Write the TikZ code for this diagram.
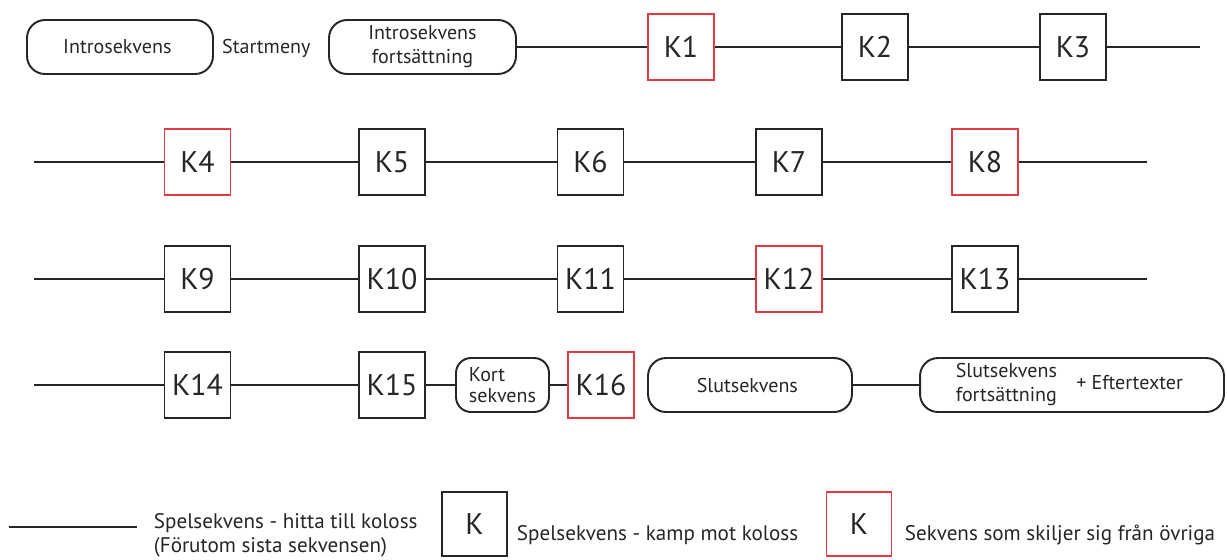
\documentclass[tikz,border=0pt]{standalone}
\usepackage{fontspec}
\setmainfont{PT Sans}
\definecolor{kolossred}{RGB}{225,60,70}
\begin{document}
\begin{tikzpicture}[x=0.02cm, y=-0.02cm, line width=1.1pt, black!85,
        kbox/.style={draw, minimum width=1.32cm, minimum height=1.32cm, inner sep=0pt, font=\fontsize{17}{20}\selectfont},
        kred/.style={kbox, draw=kolossred},
        seq/.style={draw, rounded corners=0.36cm, minimum height=1.08cm, inner sep=0pt, align=center, font=\fontsize{11.4}{13.7}\selectfont},
        txt/.style={inner sep=0pt, align=left, font=\fontsize{12}{13.5}\selectfont}]
            \useasboundingbox (0, 0) rectangle (1227, 559);

            % rad 1
            \node[seq, minimum width=3.72cm] (intro) at (120, 47) { Introsekvens };
            \node[txt, font=\fontsize{11.4}{13.7}\selectfont] (startmeny) at (269, 48) { Startmeny };
            \node[seq, minimum width=3.74cm] (introfort) at (422.5, 47) { Introsekvens\\fortsättning };
            \node[kred] (k1) at (681, 47) { K1 };
            \node[kbox] (k2) at (875, 47) { K2 };
            \node[kbox] (k3) at (1073, 47) { K3 };
            \coordinate (end1) at (1200, 47);

            \draw (introfort) -- (k1);
            \draw (k1) -- (k2);
            \draw (k2) -- (k3);
            \draw (k3) -- (end1);

            % rad 2
            \coordinate (start2) at (34, 162);
            \node[kred] (k4) at (197.5, 162) { K4 };
            \node[kbox] (k5) at (392, 162) { K5 };
            \node[kbox] (k6) at (590.5, 162) { K6 };
            \node[kbox] (k7) at (789, 162) { K7 };
            \node[kred] (k8) at (985, 162) { K8 };
            \coordinate (end2) at (1147, 162);

            \draw (start2) -- (k4);
            \draw (k4) -- (k5);
            \draw (k5) -- (k6);
            \draw (k6) -- (k7);
            \draw (k7) -- (k8);
            \draw (k8) -- (end2);

            % rad 3
            \coordinate (start3) at (34, 279);
            \node[kbox] (k9) at (197.5, 279) { K9 };
            \node[kbox] (k10) at (392, 279) { K10 };
            \node[kbox] (k11) at (590.5, 279) { K11 };
            \node[kred] (k12) at (789, 279) { K12 };
            \node[kbox] (k13) at (985, 279) { K13 };
            \coordinate (end3) at (1147, 279);

            \draw (start3) -- (k9);
            \draw (k9) -- (k10);
            \draw (k10) -- (k11);
            \draw (k11) -- (k12);
            \draw (k12) -- (k13);
            \draw (k13) -- (end3);

            % rad 4
            \coordinate (start4) at (34, 385);
            \node[kbox] (k14) at (197.5, 385) { K14 };
            \node[kbox] (k15) at (392, 385) { K15 };
            \node[seq, minimum width=1.86cm, rounded corners=0.3cm, font=\fontsize{11.4}{11.5}\selectfont, align=left] (kort) at (502.5, 385) { Kort\\sekvens };
            \node[kred] (k16) at (601, 385) { K16 };
            \node[seq, minimum width=4.08cm] (slut) at (750, 385) { Slutsekvens };
            \node[seq, minimum width=6.08cm] (slutfort) at (1072, 385) { \begin{tabular}{@{}l@{}}Slutsekvens\\fortsättning\end{tabular}\hspace{11pt}+ Eftertexter };

            \draw (start4) -- (k14);
            \draw (k14) -- (k15);
            \draw (k15) -- (kort);
            \draw (kort) -- (k16);
            \draw (slut) -- (slutfort);

            % förklaring
            \coordinate (legstart) at (9, 527);
            \coordinate (legend) at (137, 527);
            \draw (legstart) -- (legend);
            \node[txt, anchor=west] (legline) at (153, 535) { Spelsekvens - hitta till koloss\\(Förutom sista sekvensen) };
            \node[kbox, minimum width=1.3cm, minimum height=1.28cm] (legk) at (474.5, 524) { K };
            \node[txt, anchor=west] (legkamp) at (516, 535) { Spelsekvens - kamp mot koloss };
            \node[kred, minimum width=1.3cm, minimum height=1.28cm] (legkred) at (859, 524) { K };
            \node[txt, anchor=west] (legskiljer) at (904, 535) { Sekvens som skiljer sig från övriga };
        \end{tikzpicture}
\end{document}
